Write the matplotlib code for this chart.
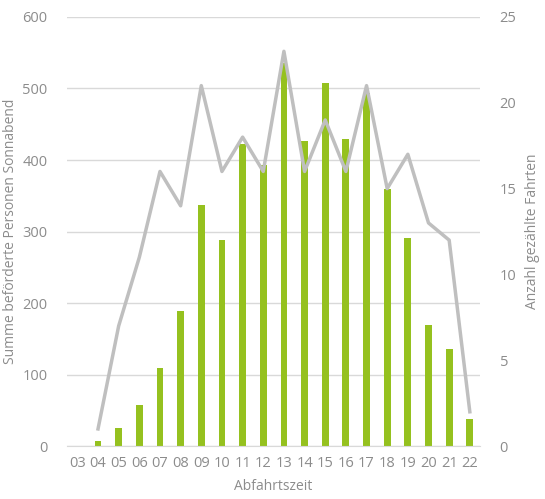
import matplotlib
matplotlib.use("Agg")
import matplotlib.pyplot as plt
import numpy as np

hours = ["03", "04", "05", "06", "07", "08", "09", "10", "11", "12",
         "13", "14", "15", "16", "17", "18", "19", "20", "21", "22"]
passengers = [0, 7, 25, 57, 109, 189, 337, 288, 422, 393,
              536, 427, 507, 430, 494, 359, 291, 170, 136, 38]
trips = [np.nan, 1, 7, 11, 16, 14, 21, 16, 18, 16,
         23, 16, 19, 16, 21, 15, 17, 13, 12, 2]

plt.rcParams['font.family'] = ['Open Sans', 'DejaVu Sans']
txt = '#8c8c8c'
green = '#95c11f'
grey = '#bfbfbf'

fig = plt.figure(figsize=(5.45, 4.99), dpi=100)
ax = fig.add_axes([0.123, 0.106, 0.758, 0.860])
x = np.arange(len(hours))
ax.bar(x, passengers, width=0.33, color=green, zorder=2)
ax.set_xlim(-0.5, len(hours) - 0.5)
ax.set_ylim(0, 600)
ax.set_yticks(range(0, 601, 100))
ax.yaxis.grid(True, color='#d9d9d9', linewidth=1)
ax.set_axisbelow(True)
ax.set_xticks(x)
ax.set_xticklabels(hours)
for s in ax.spines.values():
    s.set_visible(False)
ax.spines['bottom'].set_visible(True)
ax.spines['bottom'].set_color('#d9d9d9')
ax.tick_params(length=0, colors=txt, labelsize=10.5)
ax.tick_params(axis='y', pad=14)
ax.tick_params(axis='x', pad=7)
ax.set_xlabel('Abfahrtszeit', color=txt, fontsize=10, labelpad=6)
ax.set_ylabel('Summe beförderte Personen Sonnabend', color=txt, fontsize=10, labelpad=3)

ax2 = ax.twinx()
ax2.plot(x, trips, color=grey, linewidth=2.5, zorder=3)
ax2.set_ylim(0, 25)
ax2.set_yticks(range(0, 26, 5))
for s in ax2.spines.values():
    s.set_visible(False)
ax2.tick_params(length=0, colors=txt, labelsize=10.5, pad=14)
ax2.set_ylabel('Anzahl gezählte Fahrten', color=txt, fontsize=10, labelpad=6)

fig.savefig('out.png', dpi=100)
